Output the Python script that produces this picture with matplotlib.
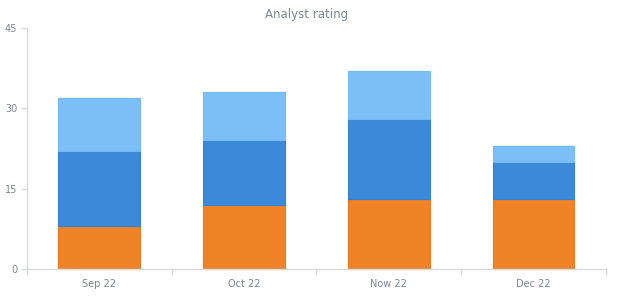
import matplotlib
matplotlib.use("Agg")
import matplotlib.pyplot as plt
import numpy as np

categories = ["Sep 22", "Oct 22", "Now 22", "Dec 22"]
series_bottom = [8, 12, 13, 13]
series_middle = [14, 12, 15, 7]
series_top = [10, 9, 9, 3]
y_ticks = [0, 15, 30, 45]

colors = ["#F08228", "#3B89D8", "#7CBFF7"]
edges = ["#EA7D24", "#3584D4", "#75BAF4"]

fig = plt.figure(figsize=(6.2, 3.0), dpi=100)
ax = fig.add_axes([0.0435, 0.103, 0.9335, 0.804])

x = np.arange(len(categories))
w = 0.565
b1 = np.array(series_bottom)
b2 = b1 + np.array(series_middle)
ax.bar(x, series_bottom, w, color=colors[0], edgecolor=edges[0], linewidth=0.8, zorder=2)
ax.bar(x, series_middle, w, bottom=b1, color=colors[1], edgecolor=edges[1], linewidth=0.8, zorder=2)
ax.bar(x, series_top, w, bottom=b2, color=colors[2], edgecolor=edges[2], linewidth=0.8, zorder=2)

ax.set_xlim(-0.5, len(categories) - 0.5)
ax.set_ylim(0, 45)
ax.set_yticks(y_ticks)
ax.set_xticks(x)
ax.set_xticklabels(categories)
ax.set_xticks(np.arange(-0.5, len(categories), 1.0), minor=True)

for s in ["top", "right"]:
    ax.spines[s].set_visible(False)
for s in ["left", "bottom"]:
    ax.spines[s].set_color("#D9DADC")
    ax.spines[s].set_linewidth(1.0)

ax.tick_params(axis="x", which="major", length=0, pad=7, labelsize=7, labelcolor="#7F8690")
ax.tick_params(axis="x", which="minor", length=4, color="#D9DADC", width=1)
ax.tick_params(axis="y", length=4, color="#D9DADC", width=1, pad=3, labelsize=7, labelcolor="#7F8690")

fig.text(0.494, 0.953, "Analyst rating", ha="center", va="center", fontsize=8.5, color="#7F8690")

fig.savefig("out.png", dpi=100, facecolor="white")
